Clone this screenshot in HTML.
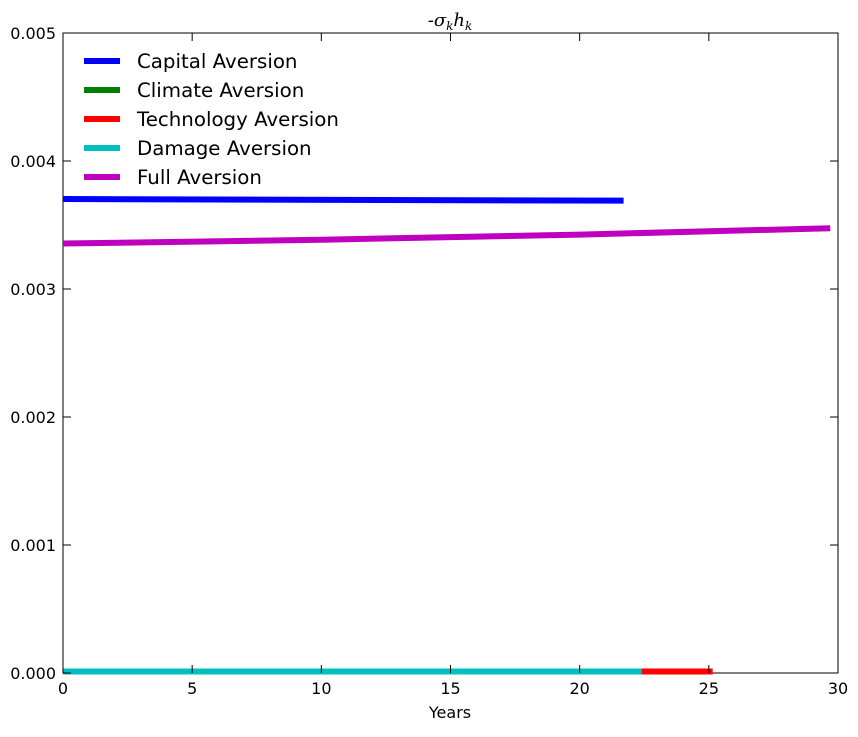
<!DOCTYPE html>
<html><head><meta charset="utf-8"><style>
body{margin:0;background:#fff;}
svg text{font-family:"DejaVu Sans","Liberation Sans",sans-serif;}
</style></head><body>
<svg id="chart" width="858" height="732" xmlns="http://www.w3.org/2000/svg">
<rect width="858" height="732" fill="#fff"/>
<g id="marks"></g>
<g id="axes"></g>
<text x="450" y="26" text-anchor="middle" font-size="18" style="font-family:'DejaVu Serif','Liberation Serif',serif" font-style="italic">-σ<tspan font-size="12" dy="4">k</tspan><tspan dy="-4">h</tspan><tspan font-size="12" dy="4">k</tspan></text>
<text x="450" y="718" text-anchor="middle" font-size="16">Years</text>
</svg>
<script>
const xTicks=[0,5,10,15,20,25,30];
const yTicks=[0,0.001,0.002,0.003,0.004,0.005];
const yTickLabels=["0.000","0.001","0.002","0.003","0.004","0.005"];
const seriesNames=["Capital Aversion","Climate Aversion","Technology Aversion","Damage Aversion","Full Aversion"];
const seriesColors=["#0000ff","#008000","#ff0000","#00bfbf","#bf00bf"];
const capitalX=[0,21.7];
const capitalY=[0.003703,0.00369];
const climateX=[0,25.1];
const climateY=[0,0];
const technologyX=[0,25.15];
const technologyY=[0,0];
const damageX=[0,22.4];
const damageY=[0,0];
const fullX=[0,10,20,29.7];
const fullY=[0.003355,0.003385,0.003425,0.003475];
const L=63,R=838,T=33,B=673;
const sx=v=>L+(v-0)/30*(R-L);
const sy=v=>B-(v/0.005)*(B-T);
const NS="http://www.w3.org/2000/svg";
const marks=document.getElementById('marks');
const axes=document.getElementById('axes');
function mk(tag,attrs,parent){const e=document.createElementNS(NS,tag);for(const k in attrs)e.setAttribute(k,attrs[k]);parent.appendChild(e);return e;}
const series=[[capitalX,capitalY],[climateX,climateY],[technologyX,technologyY],[damageX,damageY],[fullX,fullY]];
const order=[1,2,3,0,4];
const frame=mk('rect',{x:L,y:T,width:R-L,height:B-T,fill:'none',stroke:'#000','stroke-width':1},axes);


order.forEach(i=>{
  const [xs,ys]=series[i];
  const p=mk('polyline',{points:xs.map((x,j)=>sx(x)+','+Math.min(sy(ys[j]),B-1.5)).join(' '),fill:'none',stroke:seriesColors[i],'stroke-width':6},axes);
  
  
});
xTicks.forEach(v=>{
  const x=sx(v);
  mk('line',{x1:x,y1:B,x2:x,y2:B-8,stroke:'#000'},axes);
  mk('line',{x1:x,y1:T,x2:x,y2:T+8,stroke:'#000'},axes);
  const t=mk('text',{x:x,y:B+21,'text-anchor':'middle','font-size':16},axes);
  t.textContent=v;
  
  
});
yTicks.forEach((v,i)=>{
  const y=sy(v);
  mk('line',{x1:L,y1:y,x2:L+8,y2:y,stroke:'#000'},axes);
  mk('line',{x1:R,y1:y,x2:R-8,y2:y,stroke:'#000'},axes);
  const t=mk('text',{x:L-7,y:y+6,'text-anchor':'end','font-size':16},axes);
  t.textContent=yTickLabels[i];
  
  
});
seriesNames.forEach((n,i)=>{
  const y=61+i*29;
  const g=mk('g',{},axes);
  
  
  mk('line',{x1:84,y1:y,x2:120,y2:y,stroke:seriesColors[i],'stroke-width':6},g);
  const t=mk('text',{x:137,y:y+7,'font-size':19.8},g);
  t.textContent=n;
});
</script>
</body></html>
